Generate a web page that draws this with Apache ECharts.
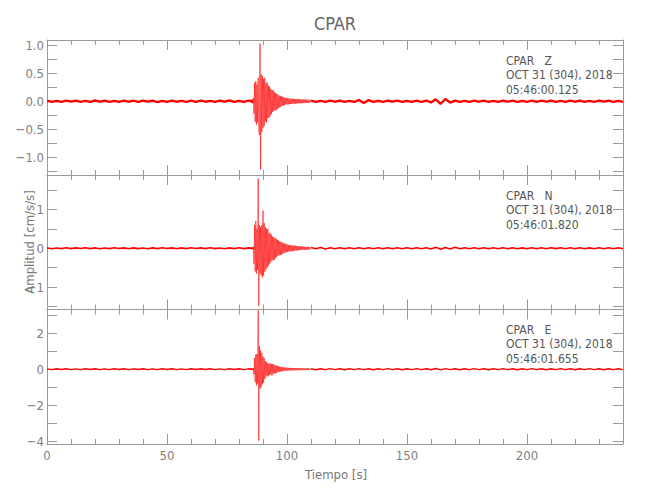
<!DOCTYPE html>
<html><head><meta charset="utf-8">
<script src="https://cdn.jsdelivr.net/npm/echarts@6/dist/echarts.min.js"></script>
<style>html,body{margin:0;padding:0;background:#fff}#c{width:650px;height:500px}</style>
</head><body><div id="c"></div>
<script>
// ---- text ----
const chartTitle = 'CPAR';
const xName = 'Tiempo [s]';
const yName = 'Amplitud [cm/s/s]';
const stationLines = ['CPAR\u00a0\u00a0\u00a0Z', 'CPAR\u00a0\u00a0\u00a0N', 'CPAR\u00a0\u00a0\u00a0E'];
const dateLines = ['OCT 31 (304), 2018', 'OCT 31 (304), 2018', 'OCT 31 (304), 2018'];
const startLines = ['05:46:00.125', '05:46:01.820', '05:46:01.655'];

// ---- axes ----
const xMin = 0, xMax = 240, xMajor = 50;
const xTickLabels = [0, 50, 100, 150, 200];
const zRange = [-1.317, 1.094];
const nRange = [-1.575, 1.884];
const eRange = [-4.15, 3.31];
const zTicks = [-1.25, -1.0, -0.75, -0.5, -0.25, 0.0, 0.25, 0.5, 0.75, 1.0];
const zLabels = [-1.0, -0.5, 0.0, 0.5, 1.0];
const nTicks = [-1.5, -1, -0.5, 0, 0.5, 1, 1.5];
const nLabels = [-1, 0, 1];
const eTicks = [-4, -3, -2, -1, 0, 1, 2, 3];
const eLabels = [-4, -2, 0, 2];

// ---- trace segments: pre-event (t=0, step 2 s), event (t=85, step 0.25 s), post (t=110, step 2 s) ----
const preStart = 0, preStep = 2, evStart = 85, evStep = 0.25, postStart = 110, postStep = 2;

// background noise (centre-line wander of the noise band)
const zPre = [0.01,-0.012,0.008,-0.01,0.012,-0.006,0.01,-0.012,0.008,-0.01,0.014,-0.008,0.01,-0.012,0.006,-0.01,0.012,-0.008,0.01,-0.012,0.012,-0.008,0.01,-0.014,0.008,-0.01,0.012,-0.008,0.006,-0.012,0.01,-0.01,0.012,-0.008,0.008,-0.012,0.01,-0.008,0.014,-0.01,0.008,-0.012,0.01,-0.01];
const zPost = [0.01,-0.012,0.008,-0.01,0.012,-0.008,0.01,-0.012,0.008,-0.012,0.02,-0.03,0.02,-0.01,0.008,-0.012,0.01,-0.008,0.012,-0.01,0.008,-0.012,0.01,-0.01,0.012,-0.02,0.035,-0.045,0.04,-0.025,0.012,-0.01,0.008,-0.012,0.01,-0.008,0.012,-0.01,0.008,-0.012,0.01,-0.008,0.012,-0.01,0.008,-0.012,0.01,-0.01,0.012,-0.008,0.01,-0.012,0.008,-0.01,0.012,-0.008,0.01,-0.012,0.008,-0.01,0.012,-0.008,0.01,-0.012,0.008,-0.01];
const nPre = [0.01,-0.012,0.008,-0.01,0.012,-0.01,0.01,-0.008,0.012,-0.01,0.01,-0.012,0.008,-0.01,0.012,-0.008,0.01,-0.012,0.01,-0.01,0.008,-0.012,0.01,-0.01,0.012,-0.008,0.01,-0.012,0.01,-0.01,0.012,-0.008,0.01,-0.01,0.012,-0.01,0.008,-0.012,0.01,-0.01,0.012,-0.01,0.01,-0.01];
const nPost = [0.02,-0.015,0.018,-0.018,0.015,-0.012,0.015,-0.015,0.012,-0.015,0.012,-0.012,0.015,-0.012,0.012,-0.015,0.012,-0.012,0.015,-0.012,0.012,-0.015,0.012,-0.012,0.015,-0.02,0.025,-0.025,0.02,-0.02,0.025,-0.015,0.012,-0.015,0.012,-0.012,0.015,-0.012,0.012,-0.015,0.012,-0.012,0.015,-0.012,0.01,-0.012,0.015,-0.012,0.012,-0.015,0.012,-0.01,0.012,-0.015,0.012,-0.012,0.015,-0.012,0.01,-0.012,0.015,-0.012,0.012,-0.015,0.012,-0.012];
const ePre = [0.02,-0.025,0.022,-0.02,0.025,-0.022,0.02,-0.025,0.025,-0.02,0.022,-0.025,0.02,-0.022,0.025,-0.02,0.022,-0.025,0.02,-0.02,0.025,-0.022,0.02,-0.025,0.022,-0.02,0.025,-0.022,0.02,-0.025,0.022,-0.02,0.025,-0.02,0.022,-0.025,0.02,-0.022,0.025,-0.02,0.022,-0.025,0.02,-0.02];
const ePost = [0.025,-0.03,0.022,-0.025,0.03,-0.022,0.025,-0.03,0.022,-0.025,0.03,-0.022,0.025,-0.03,0.022,-0.025,0.03,-0.022,0.025,-0.03,0.022,-0.025,0.03,-0.022,0.025,-0.03,0.04,-0.035,0.03,-0.025,0.022,-0.03,0.025,-0.022,0.03,-0.025,0.022,-0.03,0.025,-0.022,0.03,-0.025,0.022,-0.03,0.025,-0.022,0.03,-0.025,0.022,-0.03,0.025,-0.022,0.03,-0.025,0.022,-0.03,0.025,-0.022,0.03,-0.025,0.022,-0.03,0.025,-0.022,0.03,-0.025];

// event (peak-to-peak swings)
const zEvent = [0.03,-0.03,0.04,-0.04,0.06,-0.22,0.33,-0.37,0.36,-0.42,0.3,-0.38,0.42,-0.5,-0.6,1.03,-1.22,0.48,-0.55,0.45,-0.48,0.4,-0.44,0.42,-0.36,0.32,-0.38,0.34,-0.3,0.28,-0.3,0.26,-0.26,0.22,-0.23,0.2,-0.19,0.2,-0.17,0.16,-0.16,0.15,-0.16,0.13,-0.13,0.12,-0.12,0.1,-0.11,0.09,-0.1,0.09,-0.08,0.08,-0.08,0.07,-0.07,0.06,-0.06,0.06,-0.055,
  0.05,-0.06,0.05,-0.05,0.045,-0.05,0.05,-0.045,0.04,-0.05,0.045,-0.04,0.04,-0.045,0.04,-0.04,0.035,-0.04,0.04,-0.035,0.035,-0.04,0.035,-0.035,0.03,-0.035,0.035,-0.03,0.03,-0.035,0.03,-0.03,0.03,-0.03,0.025,-0.03,0.03,-0.025,0.03];
const nEvent = [0.02,-0.02,0.03,-0.03,0.05,-0.4,0.6,-0.6,0.7,-0.65,0.5,-0.55,1.79,-1.48,0.6,-0.65,0.55,-0.7,0.6,-0.75,0.97,-0.7,0.65,-0.6,0.55,-0.55,0.5,-0.5,0.5,-0.45,0.4,-0.4,0.38,-0.35,0.35,-0.32,0.3,-0.3,0.28,-0.3,0.27,-0.25,0.24,-0.22,0.22,-0.2,0.2,-0.18,0.18,-0.17,0.16,-0.16,0.15,-0.14,0.13,-0.13,0.12,-0.11,0.11,-0.1,0.1,
  -0.09,0.09,-0.085,0.08,-0.085,0.08,-0.075,0.07,-0.075,0.07,-0.065,0.07,-0.06,0.065,-0.06,0.055,-0.06,0.055,-0.05,0.055,-0.05,0.05,-0.045,0.05,-0.045,0.045,-0.04,0.045,-0.04,0.04,-0.04,0.035,-0.04,0.035,-0.035,0.04,-0.035,0.03,-0.035];
const eEvent = [0.04,-0.04,0.05,-0.05,0.06,-0.3,0.62,-0.72,0.82,-0.9,0.85,-0.8,3.26,-3.97,1.3,-1.1,1.05,-1.0,0.9,-0.85,0.7,-0.75,0.6,-0.55,0.45,-0.42,0.38,-0.36,0.35,-0.4,0.3,-0.32,0.32,-0.28,0.3,-0.36,0.28,-0.25,0.26,-0.24,0.22,-0.22,0.2,-0.2,0.18,-0.17,0.16,-0.15,0.14,-0.13,0.12,-0.12,0.11,-0.11,0.1,-0.1,0.1,-0.09,0.09,-0.08,0.08,
  -0.08,0.075,-0.08,0.07,-0.075,0.07,-0.07,0.065,-0.07,0.065,-0.06,0.065,-0.06,0.06,-0.065,0.055,-0.06,0.06,-0.055,0.055,-0.06,0.05,-0.055,0.055,-0.05,0.05,-0.055,0.05,-0.05,0.045,-0.05,0.05,-0.045,0.05,-0.045,0.045,-0.05,0.045,-0.045];

// ---- build ----
function seg(vals, t0, step) { return vals.map((v, i) => [t0 + i * step, v]); }
const pres = [zPre, nPre, ePre], events = [zEvent, nEvent, eEvent], posts = [zPost, nPost, ePost];
const ranges = [zRange, nRange, eRange];
const ticks = [zTicks, nTicks, eTicks];
const labels = [zLabels, nLabels, eLabels];
const labelFmt = [
  v => (v < 0 ? '\u2212' : '') + Math.abs(v).toFixed(1),
  v => (v < 0 ? '\u2212' : '') + Math.abs(v).toFixed(0),
  v => (v < 0 ? '\u2212' : '') + Math.abs(v).toFixed(0)
];
const noiseWidth = [2.4, 1.6, 1.4];

const FONT = "'Liberation Sans Narrow', 'DejaVu Sans Condensed', 'Liberation Sans', sans-serif";
const AX = '#9a9a9a', LBL = '#808080', TXT = '#555';
const L = 47, W = 576;
const panelTops = [40, 175, 309.5];
const panelH = [135, 134.5, 134.5];

const grids = [], xAxes = [], yAxes = [], series = [], graphics = [];
for (let p = 0; p < 3; p++) {
  grids.push({ left: L, top: panelTops[p], width: W, height: panelH[p], containLabel: false });
  const isLast = p === 2;
  ['bottom', 'top'].forEach(pos => {
    xAxes.push({
      type: 'value', gridIndex: p, position: pos, min: xMin, max: xMax, interval: xMajor,
      axisLine: { show: true, onZero: false, lineStyle: { color: AX, width: 1 } },
      axisTick: { show: true, inside: true, length: 10, lineStyle: { color: AX } },
      minorTick: { show: true, splitNumber: 5, length: 5, lineStyle: { color: AX } },
      axisLabel: {
        show: isLast && pos === 'bottom', color: LBL, fontFamily: FONT, fontSize: 13, margin: 5,
        customValues: xTickLabels, formatter: v => String(v)
      },
      splitLine: { show: false }
    });
  });
  ['left', 'right'].forEach(pos => {
    yAxes.push({
      type: 'value', gridIndex: p, position: pos, min: ranges[p][0], max: ranges[p][1],
      axisLine: { show: true, onZero: false, lineStyle: { color: AX, width: 1 } },
      axisTick: { show: true, inside: true, length: 10, lineStyle: { color: AX }, customValues: ticks[p] },
      axisLabel: {
        show: pos === 'left', color: LBL, fontFamily: FONT, fontSize: 13, margin: 3,
        customValues: labels[p], formatter: labelFmt[p]
      },
      splitLine: { show: false }
    });
  });
  const base = { type: 'line', xAxisIndex: p * 2, yAxisIndex: p * 2, showSymbol: false, symbol: 'none',
                 sampling: null, animation: false, clip: true, silent: true };
  series.push(Object.assign({}, base, { data: seg(pres[p], preStart, preStep), lineStyle: { color: '#ff0000', width: noiseWidth[p] } }));
  series.push(Object.assign({}, base, { data: seg(posts[p], postStart, postStep), lineStyle: { color: '#ff0000', width: noiseWidth[p] } }));
  series.push(Object.assign({}, base, { data: seg(events[p], evStart, evStep), lineStyle: { color: '#ff0000', width: 0.6 } }));
  const t = panelTops[p];
  [[stationLines[p], 21.5], [dateLines[p], 35.5], [startLines[p], 50.5]].forEach(([s, dy]) => {
    graphics.push({ type: 'text', left: 506, top: t + dy - 7, style: { text: s, fill: TXT, font: '12px ' + FONT } });
  });
}
graphics.push({ type: 'text', x: 335, y: 23, style: { text: chartTitle, fill: '#666', font: '18px ' + FONT, align: 'center', verticalAlign: 'middle' } });
graphics.push({ type: 'text', x: 336, y: 474, style: { text: xName, fill: '#777', font: '13px ' + FONT, align: 'center', verticalAlign: 'middle' } });
graphics.push({ type: 'text', x: 29, y: 242, rotation: Math.PI / 2, style: { text: yName, fill: '#777', font: '13px ' + FONT, align: 'center', verticalAlign: 'middle' } });

const chart = echarts.init(document.getElementById('c'), null, { renderer: 'svg' });
chart.setOption({
  animation: false, backgroundColor: '#fff',
  grid: grids, xAxis: xAxes, yAxis: yAxes, series: series, graphic: graphics
});
</script></body></html>
